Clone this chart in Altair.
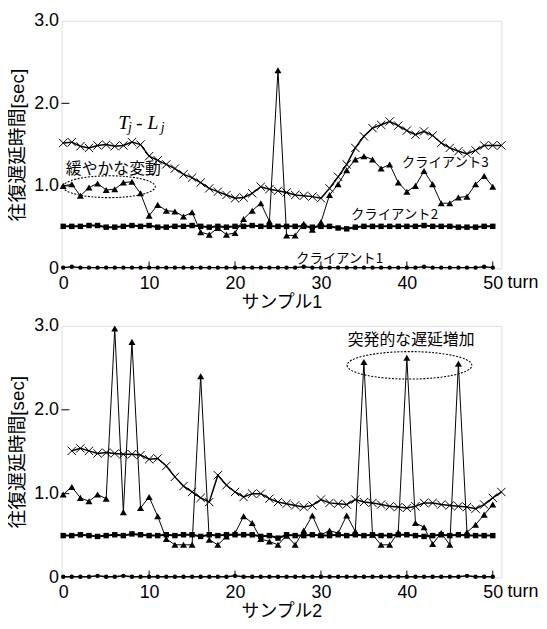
import altair as alt
import pandas as pd

# ---------------- data ----------------
TURNS = list(range(51))          # 0..50
TURNS_X1 = list(range(52))       # 0..51
TURNS_X2 = list(range(1, 52))    # 1..51

# sample 1
s1_client3 = [1.00, 1.02, 0.88, 0.98, 1.03, 0.95, 0.96, 1.04, 1.05, 0.91,
              0.64, 0.77, 0.70, 0.69, 0.63, 0.68, 0.44, 0.41, 0.49, 0.41,
              0.43, 0.60, 0.70, 0.79, 0.57, 2.40, 0.40, 0.40, 0.54, 0.47,
              0.56, 0.89, 1.02, 1.19, 1.32, 1.36, 1.32, 1.21, 1.26, 1.04,
              0.93, 1.00, 1.18, 1.02, 0.79, 0.79, 0.86, 0.87, 1.02, 1.12,
              0.99]
s1_client2 = [0.51, 0.51, 0.51, 0.52, 0.52, 0.50, 0.50, 0.51, 0.52, 0.51,
              0.52, 0.50, 0.50, 0.51, 0.51, 0.52, 0.51, 0.50, 0.51, 0.50,
              0.51, 0.51, 0.52, 0.51, 0.51, 0.51, 0.51, 0.51, 0.51, 0.50,
              0.51, 0.51, 0.49, 0.48, 0.50, 0.51, 0.51, 0.51, 0.51, 0.51,
              0.51, 0.51, 0.52, 0.51, 0.51, 0.51, 0.50, 0.50, 0.50, 0.51,
              0.51]
s1_client1 = [0.01, 0.02, 0.01, 0.01, 0.01, 0.01, 0.01, 0.01, 0.01, 0.01,
              0.01, 0.01, 0.01, 0.01, 0.01, 0.01, 0.01, 0.01, 0.01, 0.01,
              0.01, 0.01, 0.01, 0.01, 0.01, 0.01, 0.01, 0.01, 0.02, 0.01,
              0.01, 0.01, 0.01, 0.01, 0.01, 0.01, 0.01, 0.01, 0.01, 0.01,
              0.01, 0.01, 0.02, 0.01, 0.01, 0.01, 0.01, 0.01, 0.01, 0.02,
              0.01]
s1_tl = [1.52, 1.53, 1.48, 1.46, 1.49, 1.50, 1.48, 1.49, 1.53, 1.50,
         1.36, 1.31, 1.26, 1.21, 1.14, 1.10, 1.04, 0.97, 0.93, 0.89,
         0.85, 0.86, 0.91, 0.99, 0.96, 0.94, 0.92, 0.89, 0.88, 0.87,
         0.85, 0.97, 1.11, 1.26, 1.46, 1.60, 1.70, 1.74, 1.78, 1.73,
         1.67, 1.62, 1.66, 1.61, 1.52, 1.46, 1.42, 1.39, 1.43, 1.49,
         1.49, 1.49]

# sample 2
s2_client3 = [0.99, 1.08, 0.95, 0.91, 0.99, 0.94, 2.97, 0.78, 2.81, 0.83,
              0.96, 0.73, 0.46, 0.39, 0.39, 0.39, 2.40, 0.45, 0.39, 0.49,
              0.53, 0.73, 0.65, 0.46, 0.43, 0.39, 0.50, 0.39, 0.56, 0.74,
              0.51, 0.56, 0.53, 0.74, 0.55, 2.57, 0.51, 0.39, 0.39, 0.54,
              2.62, 0.65, 0.60, 0.40, 0.53, 0.39, 2.55, 0.54, 0.63, 0.75,
              0.87]
s2_client2 = [0.50, 0.50, 0.51, 0.50, 0.49, 0.50, 0.51, 0.50, 0.52, 0.51,
              0.50, 0.50, 0.51, 0.50, 0.51, 0.51, 0.49, 0.51, 0.50, 0.51,
              0.51, 0.51, 0.51, 0.49, 0.50, 0.47, 0.51, 0.50, 0.50, 0.51,
              0.50, 0.50, 0.51, 0.50, 0.51, 0.50, 0.51, 0.50, 0.50, 0.51,
              0.51, 0.50, 0.49, 0.50, 0.51, 0.50, 0.51, 0.50, 0.50, 0.50,
              0.50]
s2_client1 = [0.01, 0.01, 0.01, 0.01, 0.02, 0.01, 0.01, 0.02, 0.01, 0.01,
              0.01, 0.01, 0.01, 0.01, 0.01, 0.01, 0.01, 0.01, 0.01, 0.01,
              0.02, 0.01, 0.01, 0.01, 0.01, 0.01, 0.01, 0.01, 0.01, 0.01,
              0.01, 0.01, 0.01, 0.01, 0.01, 0.01, 0.01, 0.01, 0.01, 0.01,
              0.01, 0.01, 0.01, 0.01, 0.01, 0.01, 0.01, 0.02, 0.01, 0.01,
              0.01]
s2_tl = [1.51, 1.54, 1.51, 1.48, 1.49, 1.48, 1.47, 1.47, 1.46,
         1.41, 1.42, 1.33, 1.20, 1.09, 1.02, 0.95, 0.90, 1.22, 1.10,
         1.02, 0.96, 1.00, 1.00, 0.94, 0.90, 0.88, 0.86, 0.84, 0.86,
         0.93, 0.89, 0.88, 0.87, 0.93, 0.90, 0.89, 0.87, 0.85, 0.84,
         0.83, 0.85, 0.89, 0.89, 0.87, 0.86, 0.85, 0.84, 0.82, 0.87,
         0.95, 1.02]

X_TICKS = [0, 10, 20, 30, 40, 50]
Y_TICKS = [0, 1, 2, 3]
INNER_X_TICKS = [10, 20, 30, 40, 50]
INNER_Y_TICKS = [1, 2]

Y_TITLE = "往復遅延時間[sec]"
X_TITLES = ["サンプル1", "サンプル2"]

# annotation texts (label, turn, rtt)
s1_labels = ["クライアント3", "クライアント2", "クライアント1"]
s1_label_turn = [39.4, 33.5, 27.1]
s1_label_rtt = [1.28, 0.65, 0.12]
s1_note = ["緩やかな変動"]
s1_note_turn = [0.3]
s1_note_rtt = [1.20]
s1_ellipse_turn = [5.35]
s1_ellipse_rtt = [0.99]

s2_note = ["突発的な遅延増加"]
s2_note_turn = [40.5]
s2_note_rtt = [2.83]
s2_ellipse_turn = [40.3]
s2_ellipse_rtt = [2.53]

tj_parts = ["T", "j", "- L", "j"]
tj_turn = [6.4]
tj_rtt = [1.76]

# ---------------- styling ----------------
W = 444
H1 = 250
H2 = 254
XDOM = [-0.2, 51]
LATIN = "Liberation Sans"
CJK = "Liberation Sans, Noto Sans CJK JP"
CJK_ONLY = "Noto Sans CJK JP"
CROSS = "M -1 -1 L 1 1 M -1 1 L 1 -1"


def ellipse_path(r):
    return f"M -1 0 A 1 {r} 0 1 0 1 0 A 1 {r} 0 1 0 -1 0"


def encs(xtitle):
    xenc = alt.X(
        "turn:Q",
        scale=alt.Scale(domain=XDOM, nice=False, zero=False),
        axis=alt.Axis(values=X_TICKS, ticks=False, domain=False, grid=False,
                      labelPadding=6, labelFontSize=18, labelFont=LATIN,
                      labelColor="black", title=xtitle, titlePadding=1,
                      titleFontSize=18, titleFont=CJK, titleFontWeight="normal",
                      titleColor="black", labelFlush=False),
    )
    yenc = alt.Y(
        "rtt:Q",
        scale=alt.Scale(domain=[0, 3], nice=False),
        axis=alt.Axis(values=Y_TICKS, ticks=False, domain=False, grid=False,
                      labelExpr="datum.value == 0 ? '0' : format(datum.value, '.1f')",
                      labelPadding=3, labelFontSize=18, labelFont=LATIN,
                      labelColor="black", title=Y_TITLE, titlePadding=6,
                      titleFontSize=19, titleFont=CJK, titleFontWeight="normal",
                      titleColor="black", labelFlush=False),
    )
    return xenc, yenc


def series_layers(xs, ys, xenc, yenc, shape, size, filled, lw, sw=1.0):
    df = pd.DataFrame({"turn": xs, "rtt": ys})
    base = alt.Chart(df).encode(x=xenc, y=yenc)
    line = base.mark_line(color="black", strokeWidth=lw)
    pts = base.mark_point(shape=shape, size=size, filled=filled, color="black",
                          opacity=1, strokeWidth=sw)
    return [line, pts]


def common_layers(xenc, yenc, height):
    tx = alt.Chart(pd.DataFrame({"turn": INNER_X_TICKS})).mark_rule(
        color="black", strokeWidth=1).encode(
        x=xenc, y=alt.value(height), y2=alt.value(height - 7))
    ty = alt.Chart(pd.DataFrame({"rtt": INNER_Y_TICKS})).mark_rule(
        color="black", strokeWidth=1).encode(
        y=yenc, x=alt.value(0), x2=alt.value(8))
    turn = alt.Chart(pd.DataFrame({"turn": [50], "t": ["turn"]})).mark_text(
        align="left", baseline="top", dx=15, font=LATIN, fontSize=18,
        color="black").encode(x=xenc, y=alt.value(height + 6), text="t:N")
    return [tx, ty, turn]


def ellipse_layer(xs, ys, xenc, yenc, width, ratio):
    return alt.Chart(pd.DataFrame({"turn": xs, "rtt": ys})).mark_point(
        shape=ellipse_path(ratio), size=width * width, filled=False,
        color="black", opacity=1, strokeWidth=1.1, strokeDash=[2, 1.5]
    ).encode(x=xenc, y=yenc)


def text_layer(labels, xs, ys, xenc, yenc, size, align="left", font=CJK):
    return alt.Chart(pd.DataFrame({"turn": xs, "rtt": ys, "lab": labels})).mark_text(
        align=align, baseline="middle", font=font, fontSize=size, color="black"
    ).encode(x=xenc, y=yenc, text="lab:N")


# ---------------- panel 1 ----------------
x1, y1 = encs(X_TITLES[0])
layers1 = []
layers1 += series_layers(TURNS, s1_client1, x1, y1, "circle", 20, True, 1.5)
layers1 += series_layers(TURNS, s1_client2, x1, y1, "square", 30, True, 2)
layers1 += series_layers(TURNS, s1_client3, x1, y1, "triangle-up", 50, True, 1)
layers1 += series_layers(TURNS_X1, s1_tl, x1, y1, CROSS, 70, False, 1.5, 1)
layers1 += common_layers(x1, y1, H1)
layers1.append(text_layer(s1_labels, s1_label_turn, s1_label_rtt, x1, y1, 13.5, font=CJK_ONLY))
layers1.append(text_layer(s1_note, s1_note_turn, s1_note_rtt, x1, y1, 16))
layers1.append(ellipse_layer(s1_ellipse_turn, s1_ellipse_rtt, x1, y1, 93, 0.237))

tj_df = pd.DataFrame({"turn": tj_turn, "rtt": tj_rtt})
tj_offsets = [(0, 0, 20), (10, 5, 14), (18, 0, 20), (43, 5, 14)]
for part, (dx, dy, fs) in zip(tj_parts, tj_offsets):
    layers1.append(
        alt.Chart(tj_df).mark_text(
            text=part, align="left", baseline="middle", dx=dx, dy=dy,
            font="Liberation Serif", fontStyle="italic", fontSize=fs,
            color="black").encode(x=x1, y=y1)
    )

top = alt.layer(*layers1).properties(width=W, height=H1)

# ---------------- panel 2 ----------------
x2, y2 = encs(X_TITLES[1])
layers2 = []
layers2 += series_layers(TURNS, s2_client1, x2, y2, "circle", 20, True, 1.5)
layers2 += series_layers(TURNS, s2_client2, x2, y2, "square", 30, True, 2)
layers2 += series_layers(TURNS, s2_client3, x2, y2, "triangle-up", 50, True, 1)
layers2 += series_layers(TURNS_X2, s2_tl, x2, y2, CROSS, 70, False, 1.5, 1)
layers2 += common_layers(x2, y2, H2)
layers2.append(text_layer(s2_note, s2_note_turn, s2_note_rtt, x2, y2, 16, align="center"))
layers2.append(ellipse_layer(s2_ellipse_turn, s2_ellipse_rtt, x2, y2, 126, 0.22))

bottom = alt.layer(*layers2).properties(width=W, height=H2)

chart = alt.vconcat(top, bottom, spacing=4).properties(
    padding={"left": 0, "top": 0, "right": 0, "bottom": 0}
).configure_view(stroke="black", strokeWidth=1).configure(background="white")

chart.save("out.html", embed_options={"renderer": "svg", "actions": False})
